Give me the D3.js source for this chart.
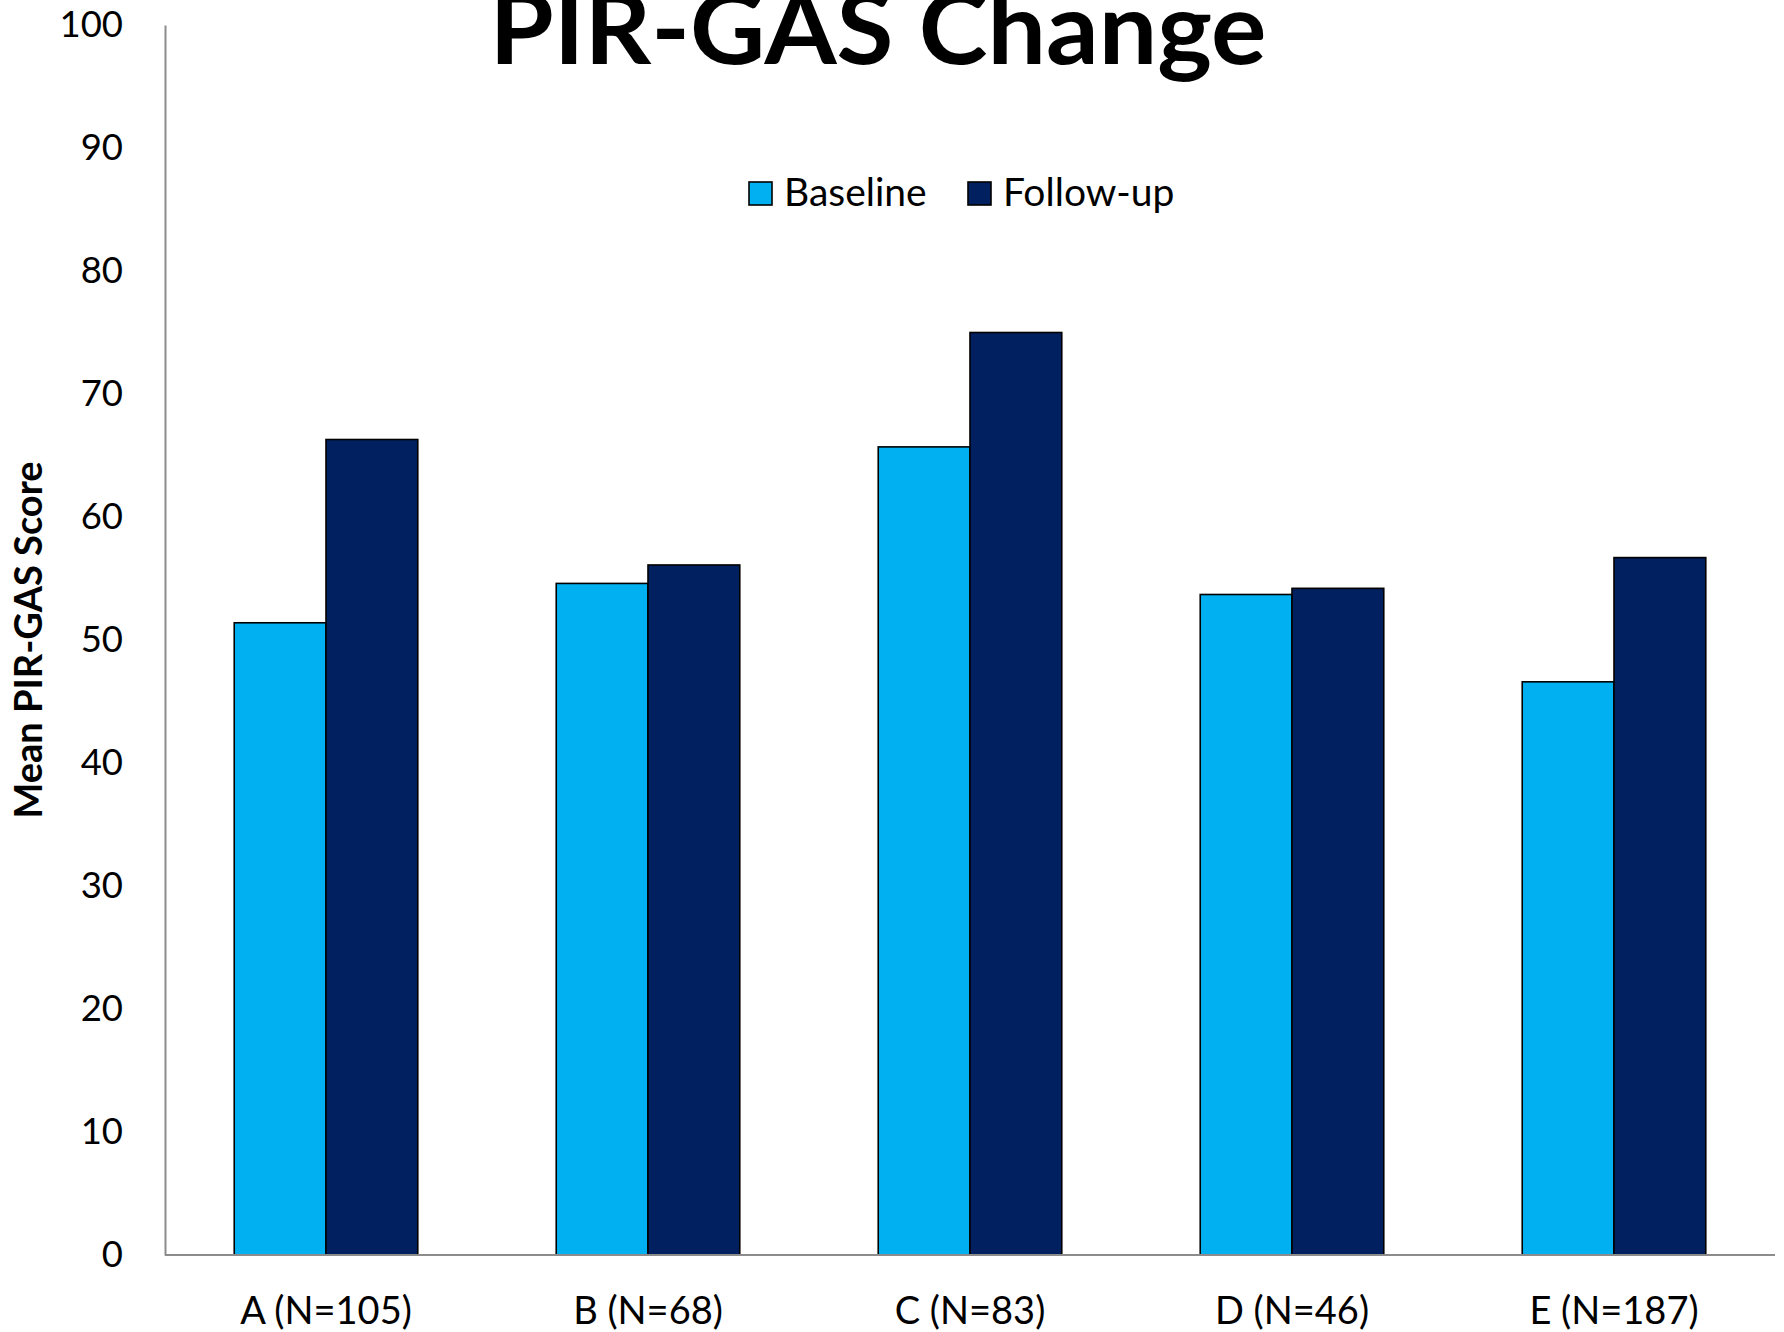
<!DOCTYPE html>
<html><head><meta charset="utf-8">
<script src="https://cdn.jsdelivr.net/npm/d3@7"></script>
<style>body{margin:0;background:#fff}svg{display:block}text{font-family:Lato,"Open Sans",sans-serif}</style>
</head><body><svg id="c" width="1784" height="1332"></svg>
<script>
const categories = ["A (N=105)","B (N=68)","C (N=83)","D (N=46)","E (N=187)"];
const seriesNames = ["Baseline","Follow-up"];
const baseline = [51.4,54.6,65.7,53.7,46.6];
const followup = [66.3,56.1,75.0,54.2,56.7];
const colors = ["#00B0F0","#002060"];
const yTicks = [0,10,20,30,40,50,60,70,80,90,100];

(function(){
const svg = d3.select("#c");
const mLeft=165, mRight=1775, mTop=25, mBottom=1255;
const x0 = d3.scaleBand().domain(categories).range([mLeft,mRight]).paddingInner(0.43).paddingOuter(0.215);
const x1 = d3.scaleBand().domain(seriesNames).range([0,x0.bandwidth()]);
const y = d3.scaleLinear().domain([0,100]).range([mBottom,mTop]);

const data = categories.map((c,i)=>({c, vals:[baseline[i],followup[i]]}));
const g = svg.append("g");
g.selectAll("g.cat").data(data).join("g").attr("transform",d=>`translate(${x0(d.c)},0)`)
 .selectAll("rect").data(d=>d.vals.map((v,j)=>({v,s:seriesNames[j],j})))
 .join("rect").attr("x",d=>x1(d.s)).attr("width",x1.bandwidth())
 .attr("y",d=>y(d.v)).attr("height",d=>y(0)-y(d.v))
 .attr("fill",d=>colors[d.j]).attr("stroke","#000").attr("stroke-width",1.6);

const ya = svg.append("g").attr("transform",`translate(${mLeft},0)`)
 .call(d3.axisLeft(y).tickValues(yTicks).tickSize(0).tickPadding(42));
ya.select(".domain").attr("stroke","#8c8c8c").attr("stroke-width",2);
ya.selectAll("text").attr("font-size",36.5).attr("fill","#000").attr("font-family","Lato");

const xa = svg.append("g").attr("transform",`translate(0,${mBottom})`)
 .call(d3.axisBottom(x0).tickSize(0).tickPadding(42));
xa.select(".domain").attr("d",`M${mLeft},0H${mRight}`).attr("stroke","#8c8c8c").attr("stroke-width",2);
xa.selectAll("text").attr("font-size",38).attr("fill","#000").attr("font-family","Lato");

svg.append("text").attr("x",878).attr("y",64).attr("text-anchor","middle")
 .attr("font-size",100).attr("font-weight","bold").attr("textLength",777).attr("lengthAdjust","spacingAndGlyphs")
 .text("PIR-GAS Change");

svg.append("text").attr("transform","translate(42,640) rotate(-90)").attr("text-anchor","middle")
 .attr("font-size",38).attr("font-weight","bold").text("Mean PIR-GAS Score");

const lx=[749,968];
seriesNames.forEach((s,i)=>{
  svg.append("rect").attr("x",lx[i]).attr("y",182).attr("width",23).attr("height",23)
   .attr("fill",colors[i]).attr("stroke","#000").attr("stroke-width",1.6);
  svg.append("text").attr("x",lx[i]+35).attr("y",206).attr("font-size",39).text(s);
});
})();
</script></body></html>
